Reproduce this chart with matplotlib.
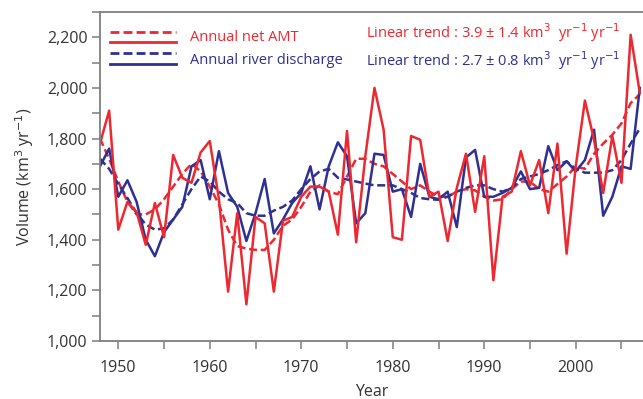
import matplotlib
matplotlib.use('Agg')
import matplotlib.pyplot as plt
from matplotlib.ticker import MultipleLocator, FuncFormatter

plt.rcParams['font.family'] = ['Open Sans', 'DejaVu Sans']

years = list(range(1948, 2008))

amt = [1780, 1910, 1440, 1550, 1510, 1380, 1545, 1410, 1735, 1645,
       1625, 1745, 1790, 1560, 1195, 1505, 1145, 1490, 1465, 1195,
       1475, 1490, 1570, 1610, 1610, 1590, 1420, 1830, 1390, 1730,
       2000, 1835, 1410, 1400, 1810, 1795, 1570, 1590, 1395, 1605,
       1740, 1510, 1730, 1240, 1570, 1590, 1750, 1615, 1715, 1505,
       1780, 1345, 1690, 1950, 1795, 1585, 1810, 1625, 2210, 1980]

river = [1690, 1760, 1570, 1635, 1550, 1400, 1335, 1430, 1480, 1530,
         1690, 1715, 1560, 1750, 1585, 1530, 1395, 1505, 1640, 1425,
         1480, 1545, 1585, 1690, 1520, 1690, 1785, 1730, 1465, 1505,
         1740, 1735, 1590, 1600, 1490, 1700, 1570, 1560, 1590, 1450,
         1725, 1755, 1570, 1570, 1585, 1605, 1670, 1600, 1605, 1770,
         1675, 1710, 1670, 1715, 1835, 1495, 1570, 1690, 1680, 2000]

amt_smooth = [1800, 1720, 1630, 1550, 1500, 1500, 1520, 1560, 1610, 1660,
              1700, 1670, 1610, 1540, 1440, 1375, 1365, 1360, 1360, 1400,
              1455, 1480, 1530, 1590, 1615, 1590, 1580, 1650, 1720, 1720,
              1700, 1690, 1660, 1630, 1600, 1615, 1590, 1570, 1570, 1590,
              1600, 1595, 1570, 1555, 1560, 1600, 1630, 1630, 1600, 1590,
              1620, 1650, 1690, 1680, 1740, 1780, 1815, 1860, 1940, 1975]

river_smooth = [1720, 1680, 1620, 1565, 1505, 1460, 1440, 1445, 1480, 1540,
                1600, 1650, 1630, 1590, 1560, 1545, 1505, 1495, 1495, 1515,
                1530, 1555, 1600, 1640, 1670, 1680, 1645, 1638, 1630, 1622,
                1615, 1615, 1615, 1600, 1585, 1565, 1560, 1558, 1570, 1590,
                1605, 1615, 1615, 1600, 1590, 1605, 1640, 1650, 1660, 1675,
                1695, 1710, 1680, 1665, 1665, 1665, 1675, 1715, 1780, 1840]

red = '#ED2830'
blue = '#2E3192'
grey = '#7f7f7f'
dash = (3.2, 1.5)

fig = plt.figure(figsize=(6.43, 3.99), dpi=100)
ax = fig.add_axes([0.1555, 0.1454, 0.8445, 0.8246])

ax.plot(years, amt_smooth, color=red, lw=1.8, dashes=dash)
ax.plot(years, river_smooth, color=blue, lw=1.8, dashes=dash)
ax.plot(years, river, color=blue, lw=1.8)
ax.plot(years, amt, color=red, lw=1.8)

ax.set_xlim(1948, 2007.35)
ax.set_ylim(1000, 2300)

ax.xaxis.set_major_locator(MultipleLocator(10))
ax.xaxis.set_minor_locator(MultipleLocator(5))
ax.yaxis.set_major_locator(MultipleLocator(200))
ax.yaxis.set_minor_locator(MultipleLocator(100))
ax.yaxis.set_major_formatter(FuncFormatter(lambda v, p: f'{int(v):,}'))

for s in ['left', 'bottom', 'top']:
    ax.spines[s].set_color(grey)
    ax.spines[s].set_linewidth(1.3)
ax.spines['right'].set_visible(False)
ax.tick_params(which='both', direction='out', length=5.5, width=1.1,
               color=grey, labelsize=11.5, labelcolor='#333333')
ax.tick_params(axis='x', pad=8)

ax.set_xlabel('Year', fontsize=11.5, color='#333333', labelpad=6)
ax.set_ylabel('Volume (km$^3$ yr$^{-1}$)', fontsize=11.5, color='#333333', labelpad=8)

# legend built by hand
tr = ax.transAxes
lx0, lx1 = 0.018, 0.14
ax.plot([lx0, lx1], [0.939, 0.939], transform=tr, color=red, lw=2.0, dashes=dash)
ax.plot([lx0, lx1], [0.908, 0.908], transform=tr, color=red, lw=2.0)
ax.plot([lx0, lx1], [0.875, 0.875], transform=tr, color=blue, lw=2.0, dashes=dash)
ax.plot([lx0, lx1], [0.842, 0.842], transform=tr, color=blue, lw=2.0)
ax.text(0.166, 0.922, 'Annual net AMT', transform=tr, color=red,
        fontsize=10.5, va='center')
ax.text(0.166, 0.852, 'Annual river discharge', transform=tr, color=blue,
        fontsize=10.5, va='center')
ax.text(0.49, 0.936, 'Linear trend : 3.9 \u00b1 1.4 km$^3$  yr$^{-1}$ yr$^{-1}$',
        transform=tr, color=red, fontsize=10.5, va='center')
ax.text(0.49, 0.851, 'Linear trend : 2.7 \u00b1 0.8 km$^3$  yr$^{-1}$ yr$^{-1}$',
        transform=tr, color=blue, fontsize=10.5, va='center')

fig.savefig('out.png', dpi=100)
